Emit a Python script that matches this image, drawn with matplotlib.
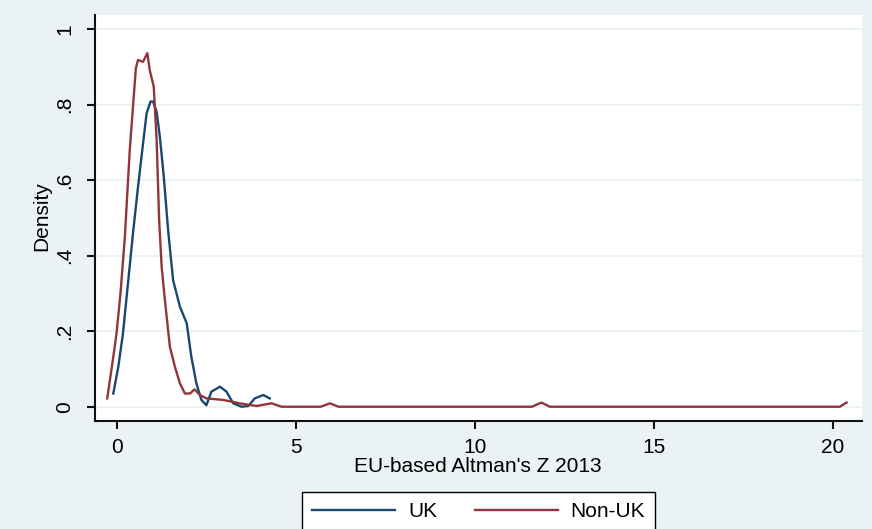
import matplotlib
matplotlib.use("Agg")
import matplotlib.pyplot as plt

plt.rcParams["font.family"] = ["Liberation Sans", "DejaVu Sans"]

# 核密度曲线
uk_x = [-0.09, 0.05, 0.18, 0.32, 0.46, 0.60, 0.73, 0.84, 0.95, 1.02, 1.12, 1.21,
        1.32, 1.44, 1.58, 1.77, 1.96, 2.09, 2.23, 2.37, 2.51, 2.65, 2.89, 3.07,
        3.26, 3.49, 3.68, 3.86, 4.10, 4.28]
uk_y = [0.035, 0.106, 0.194, 0.327, 0.459, 0.582, 0.688, 0.777, 0.808, 0.808,
        0.781, 0.715, 0.609, 0.468, 0.335, 0.265, 0.221, 0.132, 0.062, 0.018,
        0.004, 0.040, 0.053, 0.040, 0.009, 0.000, 0.002, 0.022, 0.031, 0.022]

nonuk_x = [-0.26, -0.09, 0.0, 0.11, 0.23, 0.37, 0.48, 0.54, 0.60, 0.74, 0.86,
           0.93, 1.04, 1.12, 1.19, 1.26, 1.35, 1.49, 1.63, 1.77, 1.91, 2.05,
           2.18, 2.33, 2.51, 2.98, 3.44, 3.91, 4.33, 4.61, 5.7, 5.96, 6.2,
           11.6, 11.87, 12.1, 20.2, 20.39]
nonuk_y = [0.022, 0.132, 0.194, 0.300, 0.446, 0.680, 0.820, 0.896, 0.918, 0.913,
           0.936, 0.890, 0.847, 0.706, 0.494, 0.371, 0.283, 0.159, 0.106, 0.062,
           0.035, 0.035, 0.046, 0.031, 0.022, 0.018, 0.009, 0.002, 0.009, 0.0,
           0.0, 0.009, 0.0, 0.0, 0.011, 0.0, 0.0, 0.011]

x_ticks = [0, 5, 10, 15, 20]
y_ticks = [0, 0.2, 0.4, 0.6, 0.8, 1]
y_tick_labels = ["0", ".2", ".4", ".6", ".8", "1"]

bg = "#eaf2f3"
fs = 15
fig = plt.figure(figsize=(8.72, 5.29), dpi=100, facecolor=bg)
ax = fig.add_axes([0.109, 0.204, 0.8795, 0.7676])
ax.set_facecolor("white")

ax.plot(uk_x, uk_y, color="#1a476f", lw=1.7, label="UK")
ax.plot(nonuk_x, nonuk_y, color="#90353b", lw=1.7, label="Non-UK")

ax.set_xlim(-0.6, 20.82)
ax.set_ylim(-0.038, 1.037)
ax.set_xticks(x_ticks)
ax.set_yticks(y_ticks)
ax.set_yticklabels(y_tick_labels, rotation=90, va="center")
ax.grid(axis="y", color=bg, lw=1.3)
ax.set_axisbelow(True)

for s in ["top", "right"]:
    ax.spines[s].set_visible(False)
for s in ["left", "bottom"]:
    ax.spines[s].set_color("#111111")
    ax.spines[s].set_linewidth(1.5)
ax.tick_params(length=6, width=1.5, color="#111111", labelsize=fs)
ax.tick_params(axis="y", pad=9)
ax.tick_params(axis="x", pad=6)

ax.set_ylabel("Density", fontsize=fs, va="center")
ax.yaxis.set_label_coords(-0.069, 0.505)
ax.set_xlabel("EU-based Altman's Z 2013", fontsize=fs, va="center")
ax.xaxis.set_label_coords(0.499, -0.111)

fig.legend(loc="upper center", bbox_to_anchor=(478.5 / 872, 1 - 492 / 529), ncol=2,
           fontsize=fs, frameon=True, fancybox=False, edgecolor="black",
           framealpha=1, handlelength=4.0, handletextpad=0.6, columnspacing=1.8,
           borderpad=0.5, borderaxespad=0)

fig.savefig("out.png", dpi=100, facecolor=bg)
